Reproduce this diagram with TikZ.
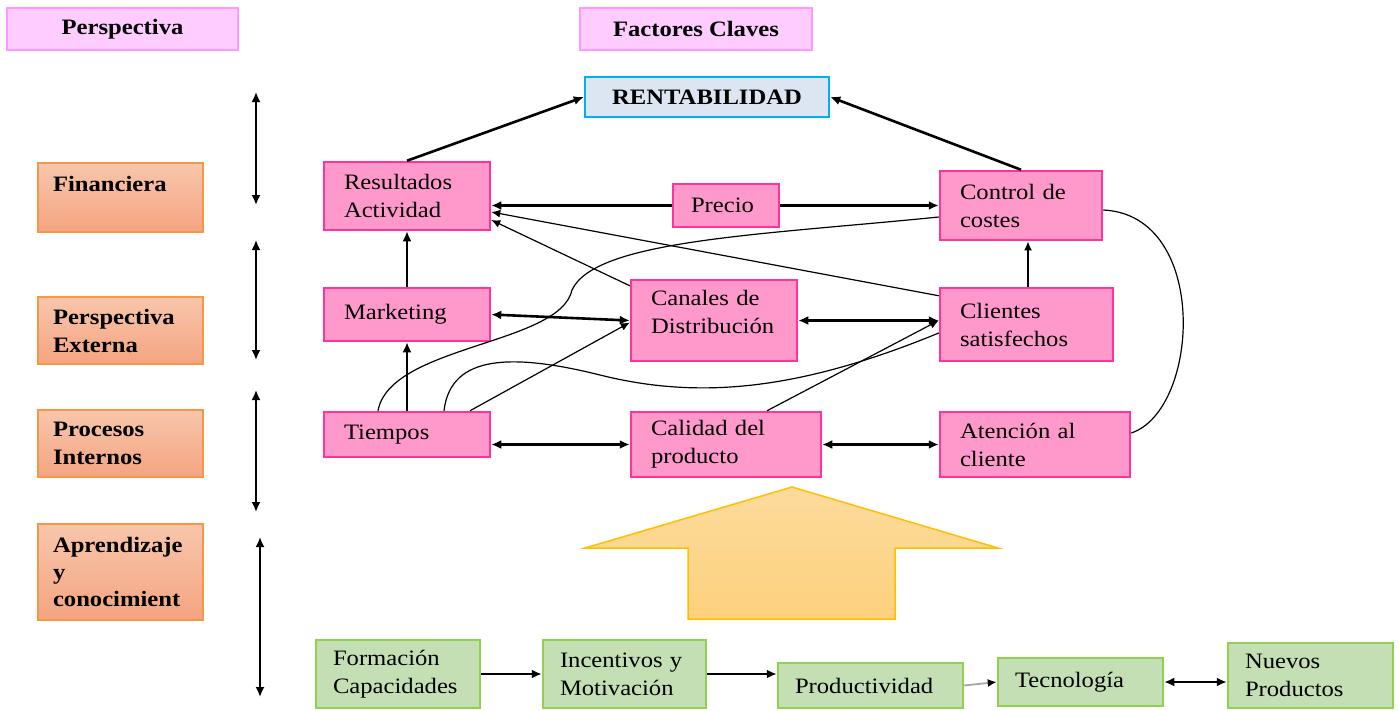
\documentclass[tikz,border=0pt]{standalone}
\usepackage{fontspec}
\setmainfont{Liberation Serif}[FakeStretch=1.12]
\usetikzlibrary{arrows.meta,calc}

\definecolor{hdrfill}{HTML}{FFCCFF}
\definecolor{hdrline}{HTML}{FF99FF}
\definecolor{orgtop}{HTML}{F8C6AB}
\definecolor{orgbot}{HTML}{F4A481}
\definecolor{orgline}{HTML}{F79646}
\definecolor{pinkfill}{HTML}{FF99CC}
\definecolor{pinkline}{HTML}{FF3399}
\definecolor{bluefill}{HTML}{DCE6F2}
\definecolor{blueline}{HTML}{00B0F0}
\definecolor{grnfill}{HTML}{C4DFB3}
\definecolor{grnline}{HTML}{92D050}
\definecolor{arrtop}{HTML}{FCDB9C}
\definecolor{arrbot}{HTML}{FDD17D}
\definecolor{arrline}{HTML}{FFC000}

\tikzset{
  hdrbox/.style={draw=hdrline, fill=hdrfill, line width=2.5pt, font=\bfseries, inner sep=0pt},
  rentbox/.style={draw=blueline, fill=bluefill, line width=2.5pt, font=\bfseries, inner sep=0pt},
  perspbox/.style={draw=orgline, line width=1.5pt, top color=orgtop, bottom color=orgbot,
                   align=left, font=\bfseries, inner xsep=15pt, inner ysep=0pt},
  factbox/.style={draw=pinkline, fill=pinkfill, line width=2.5pt, align=left, inner xsep=20pt, inner ysep=0pt},
  grnbox/.style={draw=grnline, fill=grnfill, line width=2.5pt, align=left, inner xsep=17pt, inner ysep=0pt},
  bigarrow/.style={line width=2.6pt, -{Latex[length=10pt,width=9pt]}},
  bigboth/.style={line width=2.6pt, {Latex[length=10pt,width=9pt]}-{Latex[length=10pt,width=9pt]}},
  midarrow/.style={line width=1.8pt, -{Latex[length=9pt,width=8pt]}},
  thinarrow/.style={line width=1.2pt, -{Latex[length=9pt,width=8pt]}},
  thinline/.style={line width=1.2pt},
  levelarrow/.style={line width=1.8pt, {Latex[length=10pt,width=9pt]}-{Latex[length=10pt,width=9pt]}},
}

\begin{document}
\fontsize{22}{28}\selectfont
\begin{tikzpicture}[x=1pt, y=-1pt]
\useasboundingbox (0,0) rectangle (1399,710);

% column headers
\node[hdrbox, minimum width=231pt, minimum height=42pt] (hPersp) at (122.5,29) {Perspectiva};
\node[hdrbox, minimum width=232pt, minimum height=42pt] (hFact) at (696,29) {Factores Claves};

% perspectives
\node[perspbox, minimum width=165pt, minimum height=69pt, text width=135pt] (pFin) at (120.5,197.5) {Financiera\\\mbox{}};
\node[perspbox, minimum width=165pt, minimum height=67pt, text width=135pt] (pExt) at (120.5,330.5) {Perspectiva\\Externa};
\node[perspbox, minimum width=165pt, minimum height=67pt, text width=135pt] (pInt) at (120.5,443.5) {Procesos\\Internos};
\node[perspbox, minimum width=165pt, minimum height=96pt, text width=135pt] (pApr) at (120.5,572) {Aprendizaje\\[-1pt]y\\[-1pt]conocimient};

% level arrows
\coordinate (l1a) at (256,92);  \coordinate (l1b) at (256,205);
\coordinate (l2a) at (256,240); \coordinate (l2b) at (256,360);
\coordinate (l3a) at (256,390); \coordinate (l3b) at (256,512);
\coordinate (l4a) at (260,537); \coordinate (l4b) at (260,697);
\draw[levelarrow] (l1a) -- (l1b);
\draw[levelarrow] (l2a) -- (l2b);
\draw[levelarrow] (l3a) -- (l3b);
\draw[levelarrow] (l4a) -- (l4b);

% key factors
\node[rentbox, minimum width=244pt, minimum height=40pt] (rent) at (707,97) {RENTABILIDAD};
\node[factbox, minimum width=166pt, minimum height=68pt, text width=126pt] (res) at (407,196) {Resultados\\Actividad};
\node[factbox, minimum width=106pt, minimum height=43pt, text width=70pt, inner xsep=18pt] (precio) at (726,205.5) {Precio};
\node[factbox, minimum width=162pt, minimum height=69pt, text width=122pt] (control) at (1021,205.5) {Control de\\costes};
\node[factbox, minimum width=166pt, minimum height=53pt, text width=126pt] (mkt) at (407,314.5) {Marketing};
\node[factbox, minimum width=166pt, minimum height=81pt, text width=126pt] (canales) at (714,320.5) {Canales de\\Distribución\\[-10pt]\mbox{}};
\node[factbox, minimum width=173pt, minimum height=73pt, text width=133pt] (clientes) at (1026.5,324.5) {Clientes\\satisfechos};
\node[factbox, minimum width=166pt, minimum height=45pt, text width=126pt] (tiempos) at (407,434.5) {Tiempos};
\node[factbox, minimum width=190pt, minimum height=65pt, text width=150pt] (calidad) at (726,444.5) {Calidad del\\producto};
\node[factbox, minimum width=190pt, minimum height=65pt, text width=150pt] (atencion) at (1035,444.5) {Atención al\\cliente};

% learning and growth factors
\node[grnbox, minimum width=164pt, minimum height=68pt, text width=130pt] (form) at (398,674) {Formación\\Capacidades};
\node[grnbox, minimum width=163pt, minimum height=68pt, text width=129pt] (incent) at (624.5,674) {Incentivos y\\Motivación};
\node[grnbox, minimum width=185pt, minimum height=45pt, text width=151pt] (prod) at (870.5,685.5) {Productividad};
\node[grnbox, minimum width=165pt, minimum height=48pt, text width=131pt] (tec) at (1080.5,682) {Tecnología};
\node[grnbox, minimum width=165pt, minimum height=65pt, text width=131pt] (nuevos) at (1310.5,675.5) {Nuevos\\Productos};

% large upward block arrow
\draw[draw=arrline, line width=1.5pt, top color=arrtop, bottom color=arrbot, line join=miter]
  (792,487) -- (998,548) -- (895,548) -- (895,619) -- (688,619) -- (688,548) -- (585,548) -- cycle;

% thin cross links
\draw[thinarrow] ([yshift=-7pt]canales.north west) -- ([yshift=-24pt]res.east);
\draw[thinarrow] ([yshift=-9pt]clientes.north west) -- ([yshift=-16pt]res.east);
\draw[thinarrow] ([xshift=63pt]tiempos.north) -- ([yshift=-2pt]canales.west);
\draw[thinarrow] ([xshift=41pt]calidad.north) -- (canales.east -| clientes.west);
\draw[thinline] ([yshift=-11.5pt]control.west) .. controls (760,235) and (595,240) .. (572,290)
  .. controls (560,345) and (390,345) .. ([xshift=-29pt]tiempos.north);
\draw[thinline] ([yshift=-8.5pt]clientes.west) .. controls (800,390) and (700,400) .. (600,375)
  .. controls (500,350) and (450,360) .. ([xshift=37pt]tiempos.north);
\draw[thinline] ([yshift=-4.5pt]control.east) .. controls (1210,215) and (1200,410) .. ([yshift=11.5pt]atencion.east);

% main links
\draw[bigarrow] (res.north) -- (rent.west);
\draw[bigarrow] (control.north) -- (rent.east);
\draw[bigarrow] (precio.west) -- (precio.west -| res.east);
\draw[bigarrow] (precio.east) -- (precio.east -| control.west);
\draw[midarrow] ([xshift=1.5pt]clientes.north) -- ([xshift=1.5pt]clientes.north |- control.south);
\draw[bigarrow] (mkt.north) -- (res.south);
\draw[bigarrow] (tiempos.north) -- (mkt.south);
\draw[bigboth] (mkt.east) -- (canales.west);
\draw[bigboth] (canales.east) -- (canales.east -| clientes.west);
\draw[bigboth] (calidad.west -| tiempos.east) -- (calidad.west);
\draw[bigboth] (calidad.east) -- (atencion.west);

% learning row links
\draw[bigarrow] (form.east) -- (incent.west);
\draw[bigarrow] (incent.east) -- (incent.east -| prod.west);
\draw[line width=1.8pt, gray!70, -{Latex[length=9pt,width=8pt,black]}] (prod.east) -- (tec.west);
\draw[bigboth] (tec.east) -- (tec.east -| nuevos.west);
\end{tikzpicture}
\end{document}
